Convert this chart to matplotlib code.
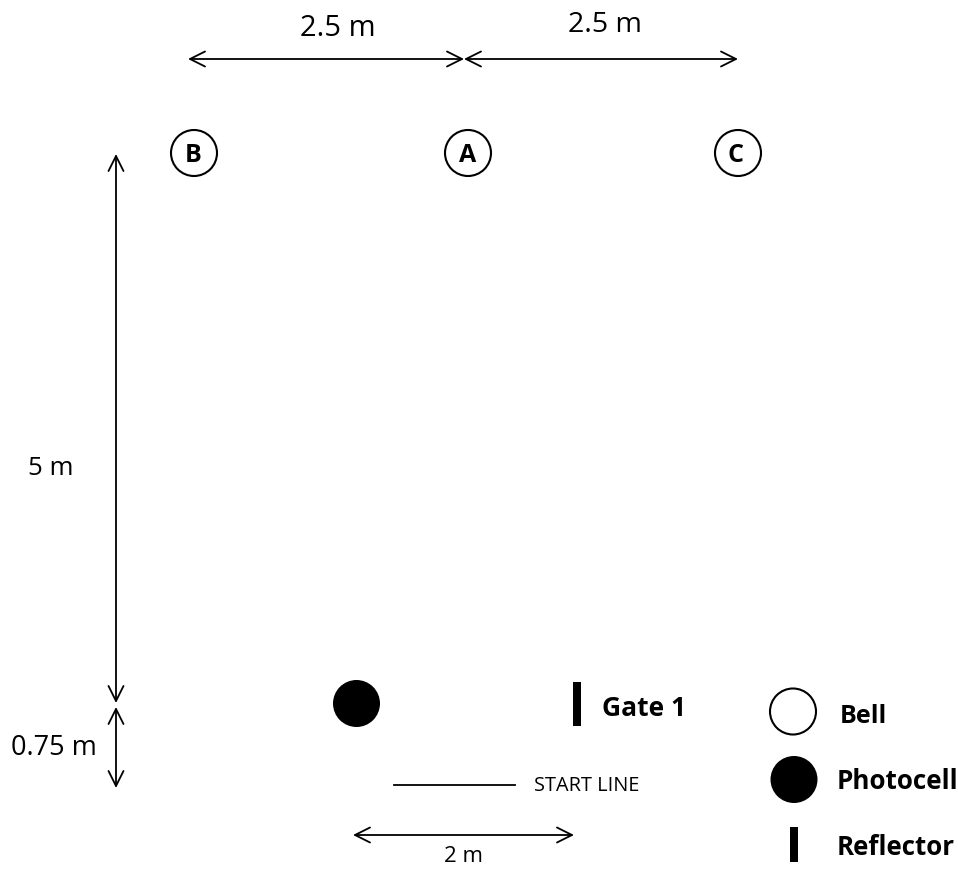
import matplotlib
matplotlib.use("Agg")
import matplotlib.pyplot as plt
from matplotlib.patches import Circle, Rectangle

plt.rcParams['font.family'] = ['Open Sans', 'DejaVu Sans']

W = 958
H = 870

# positions, in pixels
bell_names = ["B", "A", "C"]
bell_x = [194, 468, 738]
bell_y = [153, 153, 153]
bell_text_x = [193, 468, 736]

# x0, y0, x1, y1
arrows = [
    [188, 59, 464, 59],
    [464, 59, 738, 59],
    [116, 154, 116, 703],
    [116, 707, 116, 788],
    [353, 835, 574, 835],
]

# x, y, text, size
labels = [
    [338, 28, "2.5 m", 21],
    [605, 24, "2.5 m", 20.5],
    [51, 468, "5 m", 18.5],
    [54, 747, "0.75 m", 19.5],
    [463, 856, "2 m", 16],
    [587, 785, "START LINE", 14.3],
]
key_labels = [
    [602, 708, "Gate 1", 19],
    [840, 716, "Bell", 18],
    [837, 781, "Photocell", 18.7],
    [837, 847, "Reflector", 18.6],
]

fig = plt.figure(figsize=(W / 100, H / 100), dpi=100)
ax = fig.add_axes([0, 0, 1, 1])
ax.set_xlim(0, W)
ax.set_ylim(H - 1, -1)
ax.set_aspect('equal')
ax.axis('off')

for i in range(len(bell_names)):
    ax.add_patch(Circle((bell_x[i], bell_y[i]), 23, fc='white', ec='black', lw=1.5))
    ax.text(bell_text_x[i], bell_y[i] + 1, bell_names[i], fontsize=18, fontweight='bold',
            ha='center', va='center')

for a in arrows:
    ax.annotate("", xy=(a[2], a[3]), xytext=(a[0], a[1]),
                arrowprops=dict(arrowstyle='<->', color='black', lw=1.3,
                                shrinkA=0, shrinkB=0, mutation_scale=27))

for l in labels:
    ax.text(l[0], l[1], l[2], fontsize=l[3], ha='center', va='center')
for l in key_labels:
    ax.text(l[0], l[1], l[2], fontsize=l[3], fontweight='bold', ha='left', va='center')

# start line
ax.plot([394, 515], [785, 785], color='black', lw=1.3)

# photocell and gate
ax.add_patch(Circle((356.5, 703.5), 23.5, fc='black', ec='none'))
ax.add_patch(Rectangle((573, 682), 8.5, 44, fc='black', ec='none'))

# key
ax.add_patch(Circle((793, 711.5), 23, fc='white', ec='black', lw=1.5))
ax.add_patch(Circle((794, 779.5), 23.5, fc='black', ec='none'))
ax.add_patch(Rectangle((790, 827), 8, 35, fc='black', ec='none'))

fig.savefig("out.png", dpi=100)
